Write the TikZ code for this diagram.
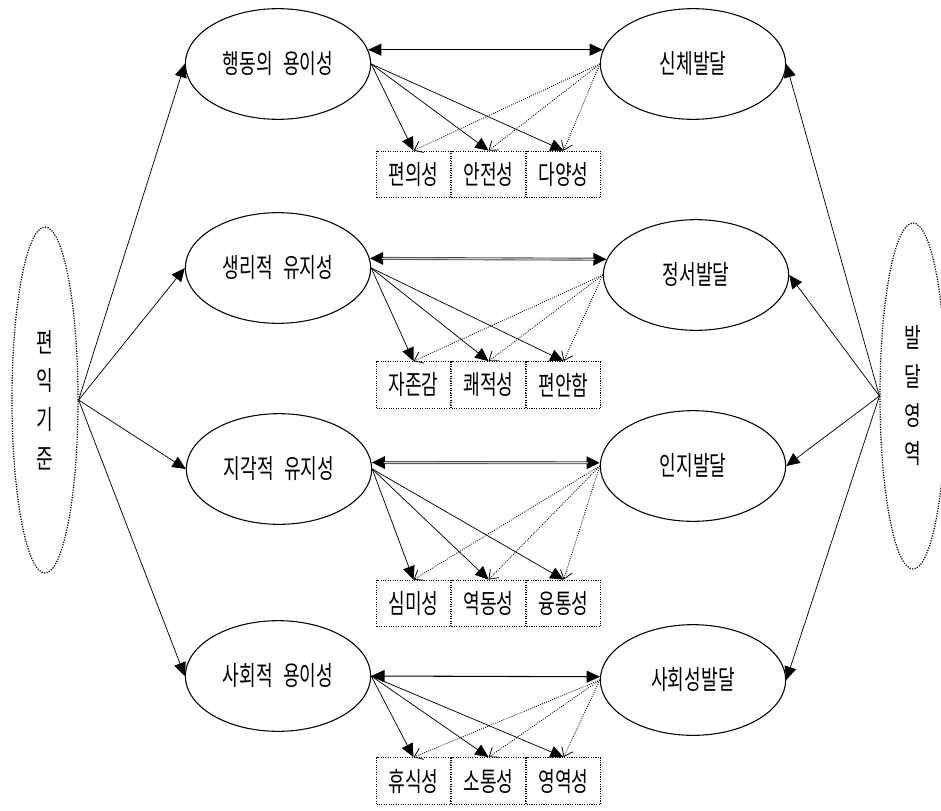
\documentclass[tikz,border=0pt]{standalone}
\usepackage{fontspec}
\newfontfamily\krfont[FakeStretch=0.68, WordSpace=2.6]{Noto Sans CJK KR}
\usetikzlibrary{positioning, shapes, arrows.meta}

\begin{document}
\begin{tikzpicture}[x=0.75pt, y=-0.75pt, >={Triangle[length=10pt,width=9pt]},
  font=\krfont\fontsize{20}{24}\selectfont,
  goal/.style={draw, ellipse, line width=0.8pt, minimum width=139pt, minimum height=83pt, inner sep=0pt},
  crit/.style={draw, ellipse, densely dotted, line width=0.9pt, minimum width=49.5pt, minimum height=259.5pt,
    align=center, inner sep=0pt, font=\krfont\fontsize{20}{29}\selectfont},
  item/.style={draw, densely dotted, line width=0.8pt, minimum width=55.5pt, minimum height=35pt, inner sep=0pt},
  link/.style={->, line width=0.55pt},
  hint/.style={-{Straight Barb[length=6pt,width=9pt,line width=0.6pt]}, densely dotted, line width=0.65pt},
  both/.style={<->, line width=0.8pt},
  twin/.style={{Triangle[length=10pt,width=9pt,black]}-{Triangle[length=10pt,width=9pt,black]},
    line width=2.2pt, draw=gray!55!black,
    postaction={draw=gray!35, line width=0.9pt, -, shorten <=9pt, shorten >=9pt}}]
  \useasboundingbox (0,0) rectangle (941,810);

  % side groups
  \node[crit] (gain) at (45,400) {편\\익\\기\\준};
  \node[crit] (area) at (913,396) {발\\달\\영\\역};

  % left column
  \node[goal] (act)  at (278,64)  {행동의 용이성};
  \node[goal] (phys) at (278,268) {생리적 유지성};
  \node[goal] (perc) at (279,469) {지각적 유지성};
  \node[goal] (soc)  at (278,676) {사회적 용이성};

  % right column
  \node[goal] (body)   at (693,64)  {신체발달};
  \node[goal] (emo)    at (696,275) {정서발달};
  \node[goal] (cog)    at (693,466) {인지발달};
  \node[goal] (socdev) at (693,680) {사회성발달};

  % value boxes
  \node[item] (v11) at (413.5,174.5) {편의성};
  \node[item, right=0pt of v11] (v12) {안전성};
  \node[item, right=0pt of v12] (v13) {다양성};
  \node[item] (v21) at (413.5,385) {자존감};
  \node[item, right=0pt of v21] (v22) {쾌적성};
  \node[item, right=0pt of v22] (v23) {편안함};
  \node[item] (v31) at (413.5,603.5) {심미성};
  \node[item, right=0pt of v31] (v32) {역동성};
  \node[item, right=0pt of v32] (v33) {융통성};
  \node[item] (v41) at (413.5,781) {휴식성};
  \node[item, right=0pt of v41] (v42) {소통성};
  \node[item, right=0pt of v42] (v43) {영역성};

  \foreach \g in {act,phys,perc,soc}
    \draw[link] (gain.east) -- (\g.west);
  \foreach \g in {body,emo,cog,socdev}
    \draw[link] (area.west) -- (\g.east);

  \draw[both] (act.9) -- (body.171);
  \draw[twin] (phys.6) -- (emo.170);
  \draw[twin] (perc.4) -- (cog.178);
  \draw[both] (soc.0) -- (socdev.178);

  \foreach \l/\r/\n in {act/body/1, phys/emo/2, perc/cog/3, soc/socdev/4}
    \foreach \k in {1,2,3} {
      \draw[link] (\l.east) -- (v\n\k.north);
      \draw[hint] (\r.west) -- (v\n\k.north);
    }
\end{tikzpicture}
\end{document}
